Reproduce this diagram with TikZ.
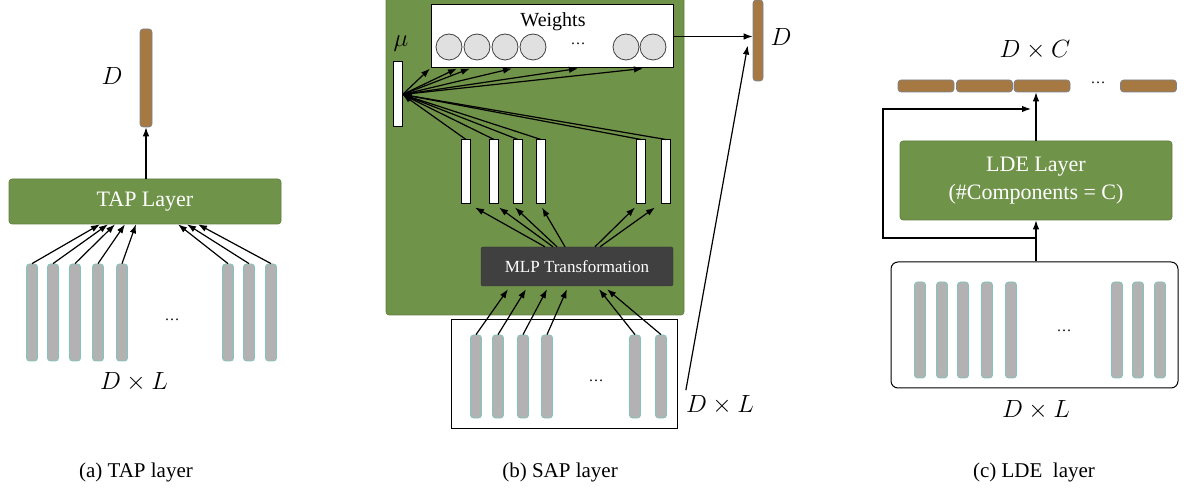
\documentclass[tikz,border=0pt]{standalone}
\usepackage{fontspec}
\setmainfont{Liberation Serif}
\usepackage{tikz}
\usetikzlibrary{arrows.meta, calc}
\definecolor{layergreen}{RGB}{112, 147, 74}
\definecolor{outbrown}{RGB}{166, 121, 66}
\definecolor{outedge}{RGB}{120, 130, 150}
\definecolor{framegray}{RGB}{178, 178, 178}
\definecolor{frameedge}{RGB}{130, 196, 188}
\definecolor{mlpdark}{RGB}{64, 64, 64}
\definecolor{weightgray}{RGB}{224, 224, 224}

\begin{document}
\begin{tikzpicture}[x=1pt, y=-1pt,
    arr/.style={-{Latex[length=9pt, width=6.5pt]}, line width=1.2pt},
    layerbox/.style={fill=layergreen, draw=layergreen!85!black, line width=0.6pt, rounded corners=3pt,
          text=white, font=\fontsize{22}{26}\selectfont, align=center, inner sep=0pt},
    framebar/.style={fill=framegray, draw=frameedge, line width=0.8pt, rounded corners=3pt,
          minimum width=11pt, inner sep=0pt},
    outbar/.style={fill=outbrown, draw=outedge, line width=0.6pt, rounded corners=3pt, inner sep=0pt},
    hidbar/.style={fill=white, draw=black, line width=1pt, minimum width=9pt, inner sep=0pt},
    wcirc/.style={circle, fill=weightgray, draw=mlpdark, line width=0.8pt, minimum size=26pt, inner sep=0pt},
    mathlbl/.style={font=\fontsize{26}{30}\selectfont, inner sep=1pt},
    dotlbl/.style={font=\fontsize{15}{18}\selectfont, inner sep=0pt},
    caplbl/.style={font=\fontsize{21}{25}\selectfont, inner sep=0pt}]
    \useasboundingbox (0,0) rectangle (1184,494);

    % (a) TAP layer
    \node[outbar, minimum width=12pt, minimum height=98pt] (tapOut) at (146,78) {};
    \node[mathlbl] (tapD) at (112,76) {$D$};
    \node[layerbox, minimum width=272pt, minimum height=45pt] (tap) at (145,201.5) {TAP Layer};
    \draw[arr] (tap.north -| tapOut.south) -- (tapOut.south);
    \foreach \i/\x/\e in {1/32/100, 2/53/108, 3/75/115, 4/98/125, 5/122/136, 6/228/178, 7/249/187, 8/271/198} {
        \node[framebar, minimum height=97pt] (a\i) at (\x,312.5) {};
        \draw[arr] (a\i.north) -- (tap.south -| \e,0);
    }
    \node[dotlbl] (tapDots) at (172,320) {\dots};
    \node[mathlbl] (tapDL) at (134,382) {$D \times L$};
    \node[caplbl] (capA) at (136,472) {(a) TAP layer};

    % (b) SAP layer
    \node[layerbox, minimum width=298pt, minimum height=318pt] (sapBg) at (535,156) {};
    \node[fill=white, draw=black, line width=1pt, minimum width=242pt, minimum height=63pt] (weights) at (552,36.5) {};
    \node[font=\fontsize{20}{24}\selectfont, inner sep=0pt] (weightsLbl) at (553,22) {Weights};
    \foreach \i/\x in {1/449, 2/477, 3/505, 4/533, 5/626, 6/653}
        \node[wcirc] (w\i) at (\x,47) {};
    \node[dotlbl] (wDots) at (578,44) {\dots};
    \node[mathlbl] (mu) at (401,44) {$\mu$};
    \node[hidbar, minimum height=65pt] (muBar) at (397.5,94.5) {};
    \foreach \e in {430, 457, 470, 512, 578, 643}
        \draw[arr] (muBar.east) -- (weights.south -| \e,0);
    \node[fill=mlpdark, draw=mlpdark!80!black, rounded corners=2pt, minimum width=192pt, minimum height=39pt,
          text=white, font=\fontsize{17}{20}\selectfont, inner sep=0pt] (mlp) at (577,266.5) {MLP Transformation};
    \foreach \i/\x/\s/\e in {1/466/545/475, 2/494/553/499, 3/518/557/515, 4/541/565/542, 5/641/595/635, 6/666/600/655} {
        \node[hidbar, minimum height=64pt] (h\i) at (\x,172) {};
        \draw[arr] (h\i.north) -- (muBar.east);
        \draw[arr] (mlp.north -| \s,0) -- ($(h\i.south -| \e,0)+(0,3)$);
    }
    \node[fill=white, draw=black, line width=1pt, minimum width=226pt, minimum height=108pt] (sapIn) at (564,374) {};
    \foreach \i/\x/\e in {1/476/508, 2/498/526, 3/523/547, 4/547/567, 5/635/599, 6/661/607} {
        \node[framebar, minimum height=83pt] (b\i) at (\x,376.5) {};
        \draw[arr] (b\i.north) -- ($(mlp.south -| \e,0)+(0,3)$);
    }
    \node[dotlbl] (sapDots) at (596,381) {\dots};
    \node[mathlbl] (sapDL) at (720,405) {$D \times L$};
    \node[outbar, minimum width=10pt, minimum height=81pt] (sapOut) at (758,40.5) {};
    \node[mathlbl] (sapD) at (781,37) {$D$};
    \draw[arr] (weights.east) -- (weights.east -| sapOut.west);
    \draw[arr] ($(sapDL.north west)+(1,-4)$) -- ($(sapOut.west)+(-5,5)$);
    \node[caplbl] (capB) at (560,472) {(b) SAP layer};

    % (c) LDE layer
    \node[mathlbl] (ldeDC) at (1035,50) {$D \times C$};
    \foreach \i/\x in {1/926, 2/984.5, 3/1042, 4/1148.5}
        \node[outbar, minimum width=56pt, minimum height=12pt] (c\i) at (\x,86) {};
    \node[dotlbl] (cDots) at (1098,83) {\dots};
    \node[layerbox, minimum width=272pt, minimum height=79pt] (lde) at (1036,180.5)
        {LDE Layer\\[2pt](\#Components = C)};
    \draw[arr] (lde.north) -- (lde.north |- c3.south);
    \node[draw=black, line width=1pt, fill=white, rounded corners=7pt, minimum width=287pt,
          minimum height=126pt] (ldeIn) at (1034.5,325) {};
    \draw[arr] (lde.south |- ldeIn.north) -- (lde.south);
    \coordinate (fbCorner) at (883,238);
    \coordinate (fbEnd) at (1031,109);
    \draw[arr] (lde.south |- fbCorner) -- (fbCorner) |- (fbEnd);
    \foreach \i/\x in {1/920, 2/942, 3/963, 4/987, 5/1011, 6/1117, 7/1138, 8/1160}
        \node[framebar, minimum height=96pt] (g\i) at (\x,330) {};
    \node[dotlbl] (ldeDots) at (1064,331) {\dots};
    \node[mathlbl] (ldeDL) at (1036,410) {$D \times L$};
    \node[caplbl] (capC) at (1034,472) {(c) LDE\ \ layer};
\end{tikzpicture}
\end{document}
